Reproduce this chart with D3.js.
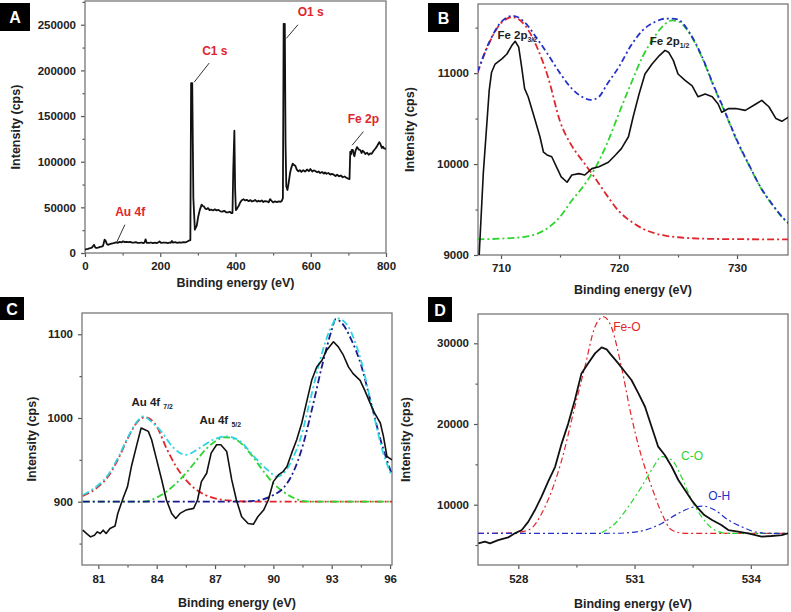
<!DOCTYPE html>
<html>
<head>
<meta charset="utf-8">
<script src="https://cdn.jsdelivr.net/npm/d3@7"></script>
<style>
  body { margin: 0; background: #fff; }
  svg { display: block; font-family: Arial, "Liberation Sans", sans-serif; }
</style>
</head>
<body>
<div id="chart"></div>
<script>
// ---- panel A : survey spectrum [eV, cps]
const surveyA = [
  [0, 3600], [4, 4200], [8, 4500], [12, 5200], [16, 5600], [19, 6200], [21, 7300], [24, 9000],
  [27, 6400], [30, 5500], [35, 6000], [40, 6600], [44, 7000], [48, 7800], [52, 14600], [55, 13200],
  [58, 9800], [61, 9000], [66, 9700], [70, 10200], [76, 10800], [83, 11700], [88, 11200],
  [92, 12200], [97, 11600], [101, 12800], [106, 11900], [110, 12300], [115, 11800], [120, 12100],
  [125, 11300], [130, 11400], [135, 11900], [140, 11200], [145, 11000], [150, 11500], [155, 10900],
  [158, 11300], [161, 15000], [164, 11200], [170, 11000], [175, 11500], [180, 10800], [186, 11300],
  [190, 10900], [195, 11600], [198, 12600], [202, 11000], [208, 11400], [215, 11300], [220, 10900],
  [225, 11500], [228, 11200], [231, 13200], [234, 11300], [240, 11800], [245, 11200], [250, 11600],
  [256, 11300], [262, 12000], [268, 11700], [276, 13500], [280, 14000],
  [282, 186000], [285, 186000], [288, 60000], [292, 25500], [297, 30000], [301, 40000], [305, 47000],
  [310, 53000], [313, 51500], [316, 51000], [320, 48500], [323, 48000], [327, 49200], [331, 47000],
  [335, 47600], [340, 46600], [345, 47800], [350, 46700], [355, 47200], [360, 45600], [365, 45300],
  [370, 46200], [375, 44600], [380, 44500], [385, 45200], [389, 43600], [392, 43800],
  [394, 90000], [397, 134000], [399, 70000], [401, 47000], [404, 48500],
  [406, 50000], [409, 52000], [412, 55000], [416, 57500], [421, 59000], [425, 57600], [430, 58200],
  [435, 56800], [440, 57900], [444, 56400], [448, 57000], [452, 58200], [457, 56200], [461, 57300],
  [465, 56400], [470, 57600], [474, 55800], [478, 56900], [483, 56500], [488, 55600], [492, 59000],
  [496, 57000], [500, 55400], [505, 56600], [510, 55800], [515, 56500], [519, 56000], [523, 57000],
  [526, 60000], [528, 251000], [531, 251000], [533, 120000], [535, 73000], [538, 69000],
  [541, 76000], [545, 87600], [548, 93000], [552, 97800], [555, 96500], [559, 95600], [563, 91200],
  [567, 89400], [571, 90800], [575, 88800], [580, 90600], [585, 89200], [590, 91400], [595, 89600],
  [599, 92000], [604, 89300], [608, 90500], [612, 89800], [617, 88400], [621, 89300], [625, 87600],
  [630, 88700], [635, 86900], [638, 88200], [642, 86800], [647, 87600], [652, 85900], [656, 86700],
  [661, 85800], [666, 84300], [670, 85700], [675, 84000], [680, 84900], [685, 83000], [690, 83800],
  [696, 82000], [700, 81500], [703, 81000], [705, 111000], [707, 108000], [709, 113000],
  [712, 113000], [714, 108000], [716, 106000], [719, 112000], [723, 116000], [727, 113500],
  [732, 112500], [735, 109500], [738, 112000], [741, 111000], [745, 108500], [750, 109800],
  [754, 107500], [758, 109000], [762, 108600], [767, 112000], [772, 114500], [776, 117000],
  [779, 119000], [782, 121500], [785, 119500], [789, 115000], [792, 116500], [795, 114500],
  [800, 114000]
];
const surveyNotes = [
  { text: "C1 s",  x: 345, y: 217000, from: [330, 208000], to: [290, 187000] },
  { text: "O1 s",  x: 600, y: 260000, from: [566, 250000], to: [535, 235000] },
  { text: "Fe 2p", x: 740, y: 142000, from: [740, 133000], to: [710, 118000] },
  { text: "Au 4f", x: 120, y: 40000,  from: [106, 31000], to: [84, 11500] }
];

// ---- panel B : Fe 2p
const fe2pData = [
  [708.15, 9000], [708.5, 9900], [709.0, 10810], [709.2, 11010], [709.5, 11100], [710.1, 11160],
  [710.5, 11210], [710.9, 11300], [711.2, 11350], [711.5, 11285], [711.75, 11065], [712.0, 10830],
  [712.3, 10740], [712.9, 10480], [713.3, 10300], [713.6, 10130], [713.9, 10100], [714.3, 10080],
  [714.7, 9970], [715.1, 9860], [715.6, 9800], [716.0, 9880], [716.6, 9895], [717.1, 9880],
  [717.7, 9950], [718.3, 9970], [719.1, 10020], [719.7, 10100], [720.2, 10170], [720.8, 10300],
  [721.2, 10520], [721.7, 10770], [722.2, 10990], [722.8, 11100], [723.4, 11190], [723.9, 11250],
  [724.2, 11230], [724.6, 11140], [725.0, 10990], [725.6, 10920], [726.2, 10860], [726.7, 10740],
  [727.3, 10770], [727.9, 10740], [728.4, 10660], [728.7, 10570], [729.3, 10610], [729.9, 10610],
  [730.7, 10590], [731.6, 10660], [732.1, 10700], [732.7, 10630], [733.3, 10500], [733.8, 10470],
  [734.4, 10520]
];
const fe2p32Fit = [
  [708, 11000], [709, 11330], [710, 11550], [711, 11615], [712, 11530], [713, 11300], [714, 10950],
  [715, 10470], [716, 10200], [717, 10020], [718, 9840], [719, 9650], [720, 9480], [721, 9370],
  [722, 9290], [723, 9240], [724, 9210], [725, 9195], [727, 9180], [730, 9174], [735, 9172]
];
const fe2p12Fit = [
  [708, 9172], [710, 9180], [712, 9200], [713, 9230], [714, 9300], [715, 9420], [716, 9600],
  [717, 9760], [718, 9960], [719, 10230], [720, 10560], [721, 10880], [722, 11180], [723, 11400],
  [724, 11550], [724.5, 11580], [725, 11570], [726, 11430], [727, 11180], [728, 10860],
  [729, 10560], [730, 10250], [731, 9990], [732, 9740], [733, 9550], [734, 9390], [735, 9280]
];
const fe2pEnvelope = [
  [708, 11010], [709, 11340], [710, 11560], [711, 11630], [712, 11560], [713, 11390], [714, 11200],
  [715, 11000], [716, 10830], [717, 10730], [717.6, 10705], [718.3, 10740], [719, 10880],
  [720, 11070], [721, 11300], [722, 11470], [723, 11560], [724, 11600], [724.5, 11600],
  [725, 11590], [726, 11440], [727, 11190], [728, 10870], [729, 10570], [730, 10260],
  [731, 9995], [732, 9745], [733, 9555], [734, 9395], [735, 9285]
];

// ---- panel C : Au 4f
const au4fData = [
  [80.2, 866], [80.4, 862], [80.6, 858], [80.8, 860], [80.95, 864], [81.1, 862], [81.25, 866],
  [81.4, 862], [81.6, 868], [81.86, 871], [82.0, 886], [82.3, 906], [82.5, 918], [82.7, 942],
  [83.0, 970], [83.2, 988], [83.4, 986], [83.57, 984], [83.74, 974], [84.0, 950], [84.26, 926],
  [84.5, 902], [84.77, 886], [84.98, 880], [85.2, 886], [85.5, 890], [85.9, 892], [86.1, 902],
  [86.3, 924], [86.57, 934], [86.8, 958], [87.08, 968], [87.3, 968], [87.6, 960], [87.86, 926],
  [88.1, 902], [88.37, 882], [88.7, 874], [88.97, 873], [89.2, 882], [89.5, 890], [89.74, 902],
  [90.0, 924], [90.26, 932], [90.5, 936], [90.7, 942], [90.94, 958], [91.2, 974], [91.46, 994],
  [91.7, 1018], [91.97, 1045], [92.23, 1061], [92.5, 1069], [92.74, 1081], [93.09, 1091],
  [93.34, 1085], [93.6, 1075], [93.86, 1061], [94.1, 1053], [94.46, 1045], [94.7, 1033],
  [94.97, 1018], [95.2, 1006], [95.5, 994], [95.66, 978], [95.84, 954], [96.1, 950]
];
const au4f72Fit = [
  [80.2, 907], [81, 918], [81.5, 930], [82, 950], [82.5, 975], [83, 995], [83.4, 1001], [84, 990],
  [84.5, 964], [85, 942], [85.5, 926], [86, 915], [86.5, 908], [87, 904], [88, 901], [89, 900],
  [96.1, 900]
];
const au4f52Fit = [
  [80.2, 900], [83.3, 900], [84, 905], [84.5, 912], [85, 922], [85.5, 934], [86, 948], [86.5, 962],
  [87, 972], [87.5, 977], [88, 975], [88.5, 966], [89, 952], [89.5, 936], [90, 922], [90.5, 912],
  [91, 905], [91.5, 901], [92, 900], [96.1, 900]
];
const au4fThirdFit = [
  [80.2, 900], [88, 900], [89, 901], [89.5, 903], [90, 908], [90.5, 916], [91, 934], [91.5, 966],
  [92, 1012], [92.5, 1062], [93, 1105], [93.2, 1118], [93.5, 1114], [94, 1094], [94.5, 1064],
  [95, 1020], [95.5, 975], [96.1, 932]
];
const au4fEnvelope = [
  [80.2, 908], [81, 920], [81.5, 932], [82, 952], [82.5, 976], [83, 996], [83.3, 1002], [83.8, 994],
  [84.3, 982], [84.8, 966], [85.5, 956], [86.2, 964], [86.9, 974], [87.6, 978], [88.3, 972],
  [89, 954], [89.7, 938], [90.2, 930], [90.6, 936], [91, 952], [91.4, 976], [91.9, 1022],
  [92.4, 1069], [92.9, 1105], [93.3, 1119], [93.8, 1111], [94.5, 1069], [95.1, 1010],
  [95.6, 962], [96.1, 930]
];

// ---- panel D : O 1s
const o1sData = [
  [526.97, 5210], [527.14, 5420], [527.27, 5210], [527.48, 5620], [527.74, 5950], [527.91, 6450],
  [528.09, 6860], [528.26, 7900], [528.43, 9340], [528.6, 10990], [528.77, 12850], [528.95, 14700],
  [529.12, 17600], [529.29, 20080], [529.46, 22970], [529.63, 26270], [529.8, 27510],
  [529.98, 28750], [530.15, 29500], [530.28, 29250], [530.4, 28540], [530.58, 27510],
  [530.75, 26480], [530.92, 25450], [531.1, 23790], [531.27, 22140], [531.44, 19660],
  [531.61, 17190], [531.78, 16150], [531.96, 14700], [532.13, 13060], [532.3, 11820],
  [532.47, 10580], [532.64, 9550], [532.8, 8720], [533.0, 8100], [533.24, 7480], [533.42, 6860],
  [533.67, 6650], [533.93, 6450], [534.28, 6040], [534.53, 6120], [534.8, 6240], [534.96, 6450]
];
const feOFit = [
  [526.96, 6450], [527.8, 6500], [528.26, 6860], [528.69, 9750], [529.12, 15530], [529.46, 22140],
  [529.72, 27100], [529.98, 32050], [530.2, 33290], [530.4, 32050], [530.66, 27100],
  [530.92, 20900], [531.18, 15950], [531.44, 12230], [531.7, 8930], [531.96, 6860],
  [532.3, 6450], [534.96, 6450]
];
const cOFit = [
  [530.15, 6530], [530.49, 7640], [530.84, 9750], [531.18, 12230], [531.44, 14290], [531.7, 15950],
  [531.96, 15530], [532.21, 13470], [532.47, 10580], [532.73, 8510], [533.07, 6860],
  [533.42, 6450], [534.96, 6450]
];
const oHFit = [
  [526.96, 6450], [530.5, 6460], [530.84, 6530], [531.27, 6860], [531.7, 7680], [532.13, 8920],
  [532.56, 9750], [532.77, 9830], [533.07, 9340], [533.42, 8100], [533.76, 7270], [534.1, 6650],
  [534.45, 6450], [534.96, 6450]
];

const W = 791, H = 612;
const svg = d3.select("#chart").append("svg").attr("width", W).attr("height", H);

const red = "#e0262c", green = "#2fd42f", blue = "#2430c8", cyan = "#2ed4e0";

function panel(opt) {
  const x = d3.scaleLinear().domain(opt.xDomain).range([opt.left, opt.right]);
  const y = d3.scaleLinear().domain(opt.yDomain).range([opt.bottom, opt.top]);
  const g = svg.append("g");
  const clipId = "clip-" + opt.letter;
  g.append("clipPath").attr("id", clipId).append("rect")
    .attr("x", opt.left).attr("y", opt.top)
    .attr("width", opt.right - opt.left).attr("height", opt.bottom - opt.top);

  const fmt = opt.format || d3.format("d");
  const xAxis = d3.axisBottom(x).tickValues(opt.xTicks).tickFormat(fmt).tickSize(4).tickPadding(opt.xPad || 5).tickSizeOuter(0);
  const yAxis = d3.axisLeft(y).tickValues(opt.yTicks).tickFormat(d3.format("d")).tickSize(4).tickPadding(5).tickSizeOuter(0);
  const xMinor = d3.axisBottom(x).tickValues(opt.xMinor).tickFormat("").tickSize(2.5).tickSizeOuter(0);
  const yMinor = d3.axisLeft(y).tickValues(opt.yMinor).tickFormat("").tickSize(2.5).tickSizeOuter(0);

  [xAxis, xMinor].forEach(a => g.append("g").attr("transform", `translate(0,${opt.bottom})`).call(a));
  [yAxis, yMinor].forEach(a => g.append("g").attr("transform", `translate(${opt.left},0)`).call(a));
  g.selectAll(".domain").remove();
  g.selectAll(".tick line").attr("stroke", "#555").attr("stroke-width", 1.2);
  g.selectAll(".tick text").attr("fill", "#222").style("font-size", "11.5px").style("font-weight", "bold");

  g.append("rect")
    .attr("x", opt.left).attr("y", opt.top)
    .attr("width", opt.right - opt.left).attr("height", opt.bottom - opt.top)
    .attr("fill", "none").attr("stroke", "#777").attr("stroke-width", 1.3);

  const plot = g.append("g").attr("clip-path", `url(#${clipId})`);
  const line = d3.line().x(d => x(d[0])).y(d => y(d[1]));
  const smooth = d3.line().x(d => x(d[0])).y(d => y(d[1])).curve(d3.curveMonotoneX);
  opt.series.forEach(s => {
    plot.append("path").datum(s.data)
      .attr("fill", "none")
      .attr("stroke", s.color)
      .attr("stroke-width", s.width || 1.6)
      .attr("stroke-dasharray", s.dash || null)
      .attr("stroke-linejoin", "round")
      .attr("d", s.smooth ? smooth(s.data) : line(s.data));
  });

  // axis titles
  g.append("text")
    .attr("x", (opt.left + opt.right) / 2).attr("y", opt.bottom + opt.xTitleGap)
    .attr("text-anchor", "middle").attr("fill", "#222")
    .style("font-size", "12.5px").style("font-weight", "bold")
    .text("Binding energy (eV)");
  g.append("text")
    .attr("transform", `translate(${opt.yTitleX},${(opt.top + opt.bottom) / 2}) rotate(-90)`)
    .attr("text-anchor", "middle").attr("fill", "#222")
    .style("font-size", "12.5px").style("font-weight", "bold")
    .text("Intensity (cps)");

  // panel letter
  const b = opt.box;
  g.append("rect").attr("x", b[0]).attr("y", b[1]).attr("width", b[2]).attr("height", b[3]).attr("fill", "#000");
  g.append("text").attr("x", b[0] + b[2] / 2).attr("y", b[1] + b[3] / 2 + 6)
    .attr("text-anchor", "middle").attr("fill", "#fff")
    .style("font-size", "16px").style("font-weight", "bold")
    .text(opt.letter);

  return { g, x, y };
}

// A
const pA = panel({
  letter: "A", box: [0, 3, 30, 28],
  left: 85, right: 386, top: 1, bottom: 253,
  xDomain: [0, 800], yDomain: [0, 276000],
  xTicks: [0, 200, 400, 600, 800], xMinor: [100, 300, 500, 700],
  yTicks: d3.range(0, 250001, 50000), yMinor: d3.range(25000, 275001, 50000),
  xTitleGap: 34, yTitleX: 20,
  series: [{ data: surveyA, color: "#111", width: 1.8 }]
});
surveyNotes.forEach(n => {
  pA.g.append("line")
    .attr("x1", pA.x(n.from[0])).attr("y1", pA.y(n.from[1]))
    .attr("x2", pA.x(n.to[0])).attr("y2", pA.y(n.to[1]))
    .attr("stroke", "#333").attr("stroke-width", 1);
  pA.g.append("text").attr("x", pA.x(n.x)).attr("y", pA.y(n.y))
    .attr("text-anchor", "middle").attr("fill", red)
    .style("font-size", "12px").style("font-weight", "bold")
    .text(n.text);
});

// B
const pB = panel({
  letter: "B", box: [428, 3, 31, 29],
  left: 478, right: 788, top: 4, bottom: 255,
  xDomain: [708.05, 734.32], yDomain: [9000, 11760],
  xTicks: [710, 720, 730], xMinor: [715, 725],
  yTicks: [9000, 10000, 11000], yMinor: [9500, 10500, 11500],
  xTitleGap: 39, yTitleX: 414,
  series: [
    { data: fe2p32Fit, color: red, dash: "7,3,2,3", smooth: true, width: 1.8 },
    { data: fe2p12Fit, color: green, dash: "7,3,2,3", smooth: true, width: 1.8 },
    { data: fe2pEnvelope, color: blue, dash: "6,3,2,3", smooth: true, width: 1.8 },
    { data: fe2pData, color: "#111", width: 1.6 }
  ]
});
function subLabel(p, xv, yv, main, sub, size) {
  const t = p.g.append("text").attr("x", p.x(xv)).attr("y", p.y(yv))
    .attr("fill", "#222").style("font-size", size + "px").style("font-weight", "bold");
  t.append("tspan").text(main);
  t.append("tspan").attr("dy", 3).style("font-size", (size * 0.6) + "px").text(sub);
}
subLabel(pB, 709.7, 11380, "Fe 2p", "3/2", 11.5);
subLabel(pB, 722.6, 11310, "Fe 2p", "1/2", 11.5);

// C
const pC = panel({
  letter: "C", box: [0, 297, 24, 23],
  left: 82, right: 392, top: 313, bottom: 565,
  xDomain: [80.16, 96.1], yDomain: [824.4, 1125.4],
  xTicks: [81, 84, 87, 90, 93, 96], xMinor: [82.5, 85.5, 88.5, 91.5, 94.5],
  yTicks: [900, 1000, 1100], yMinor: [850, 950, 1050],
  xTitleGap: 42, yTitleX: 36, xPad: 6,
  series: [
    { data: au4f72Fit, color: red, dash: "7,3,2,3", smooth: true, width: 1.8 },
    { data: au4f52Fit, color: green, dash: "7,3,2,3", smooth: true, width: 1.8 },
    { data: au4fThirdFit, color: "#1a1a8c", dash: "7,3,2,3", smooth: true, width: 1.8 },
    { data: au4fEnvelope, color: cyan, dash: "7,3,2,3", smooth: true, width: 1.8 },
    { data: au4fData, color: "#111", width: 1.6 }
  ]
});
subLabel(pC, 82.7, 1014, "Au 4f ", "7/2", 11.5);
subLabel(pC, 86.2, 993, "Au 4f ", "5/2", 11.5);

// D
const pD = panel({
  letter: "D", box: [428, 297, 24, 25],
  left: 478, right: 788, top: 314, bottom: 565,
  xDomain: [526.96, 534.96], yDomain: [2528, 33630],
  xTicks: [528, 531, 534], xMinor: [529.5, 532.5],
  yTicks: [10000, 20000, 30000], yMinor: [5000, 15000, 25000],
  xTitleGap: 43, yTitleX: 410, xPad: 6,
  series: [
    { data: feOFit, color: red, dash: "6,3,2,3", smooth: true, width: 1.2 },
    { data: cOFit, color: green, dash: "6,3,2,3", smooth: true, width: 1.2 },
    { data: oHFit, color: blue, dash: "6,3,2,3", smooth: true, width: 1.2 },
    { data: o1sData, color: "#111", width: 1.8 }
  ]
});
[
  { text: "Fe-O", x: 530.45, y: 31500, color: red },
  { text: "C-O", x: 532.2, y: 15500, color: green },
  { text: "O-H", x: 532.9, y: 10600, color: blue }
].forEach(n => {
  pD.g.append("text").attr("x", pD.x(n.x)).attr("y", pD.y(n.y))
    .attr("fill", n.color).style("font-size", "12px")
    .text(n.text);
});
</script>
</body>
</html>
